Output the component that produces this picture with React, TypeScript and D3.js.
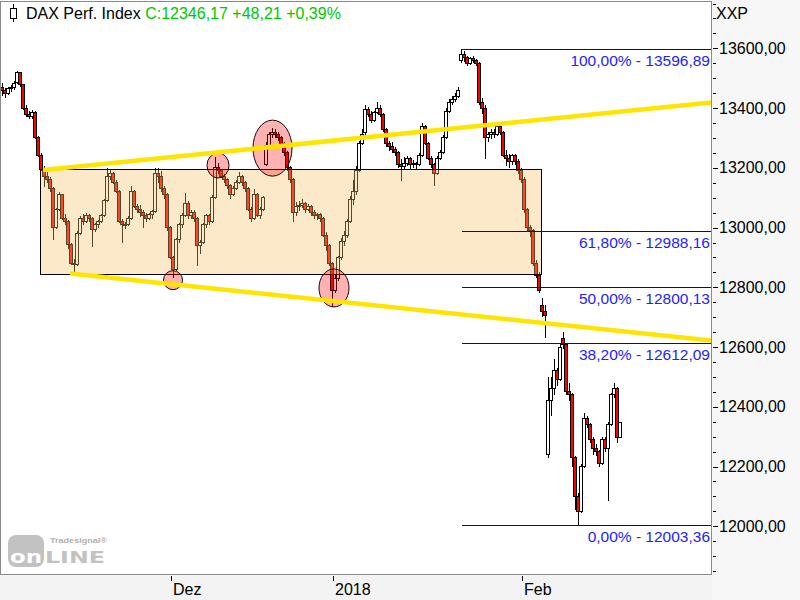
import React from "react";
import * as d3 from "d3";

// ---- header texts ----
const instrument = "DAX Perf. Index";
const lastClose = "C:12346,17";
const lastChange = "+48,21";
const lastChangePct = "+0,39%";
const currencyCode = "XXP";

// ---- price bars [open, high, low, close] ----
type Bar = [number, number, number, number];

const novBars: Bar[] = [
  [13470, 13485, 13440, 13460], [13460, 13468, 13435, 13450], [13450, 13472, 13445, 13465], [13465, 13478, 13455, 13470],
  [13470, 13490, 13462, 13482], [13485, 13525, 13480, 13518], [13518, 13522, 13470, 13478], [13478, 13482, 13395, 13400],
  [13400, 13410, 13370, 13380], [13380, 13392, 13362, 13372], [13372, 13395, 13365, 13385], [13385, 13390, 13295, 13300],
  [13300, 13305, 13235, 13240], [13240, 13250, 13190, 13195], [13195, 13205, 13135, 13170], [13170, 13185, 13150, 13162],
  [13162, 13168, 13120, 13130], [13130, 13135, 12960, 13000], [13000, 13065, 12995, 13060], [13060, 13120, 13055, 13110],
  [13110, 13112, 13025, 13030], [13030, 13045, 13010, 13020], [13020, 13025, 12930, 12945], [12945, 12950, 12875, 12880],
  [12880, 12895, 12850, 12875], [12875, 12990, 12870, 12980], [12980, 13040, 12975, 13030], [13030, 13045, 13010, 13020],
  [13020, 13048, 13015, 13040], [13040, 13045, 13020, 13030], [13030, 13035, 12935, 12995], [12995, 13015, 12985, 13010],
  [13010, 13025, 13000, 13020], [13020, 13045, 13015, 13040], [13040, 13095, 13035, 13090], [13090, 13200, 13085, 13170],
  [13170, 13195, 13160, 13180], [13180, 13185, 13145, 13150], [13150, 13160, 13115, 13120], [13120, 13125, 13015, 13020],
  [13020, 13030, 12950, 13010], [13010, 13020, 12995, 13012], [13012, 13040, 13005, 13030], [13030, 13140, 13025, 13120],
  [13120, 13125, 13065, 13070], [13070, 13080, 13050, 13060], [13060, 13075, 13035, 13050], [13050, 13060, 13000, 13040],
  [13040, 13050, 13020, 13030], [13030, 13050, 13025, 13045], [13045, 13060, 13030, 13055], [13055, 13200, 13050, 13180],
  [13180, 13200, 13150, 13170], [13170, 13190, 13120, 13130], [13130, 13140, 13095, 13110], [13110, 13115, 12990, 13000],
];

const decBars: Bar[] = [
  [13000, 13005, 12895, 12900], [12900, 12905, 12830, 12860], [12860, 12965, 12855, 12960], [12960, 13015, 12950, 13010],
  [13010, 13050, 13000, 13040], [13040, 13115, 13035, 13080], [13080, 13090, 13030, 13040], [13040, 13060, 13030, 13050],
  [13050, 13060, 13020, 13030], [13030, 13035, 12870, 12940], [12940, 12960, 12910, 12950], [12950, 13015, 12945, 13010],
  [13010, 13045, 13000, 13040], [13040, 13045, 13010, 13020], [13020, 13110, 13015, 13100], [13100, 13235, 13095, 13200],
  [13200, 13215, 13180, 13190], [13190, 13195, 13165, 13170], [13170, 13180, 13150, 13160], [13160, 13165, 13130, 13140],
  [13140, 13145, 13095, 13110], [13110, 13140, 13105, 13130], [13130, 13160, 13125, 13150], [13150, 13185, 13145, 13170],
  [13170, 13175, 13140, 13150], [13150, 13155, 13120, 13130], [13130, 13135, 13055, 13060], [13060, 13070, 13020, 13030],
  [13030, 13130, 13025, 13110], [13110, 13115, 13035, 13040], [13040, 13070, 13030, 13060], [13060, 13105, 13055, 13100],
  [13210, 13285, 13205, 13275], [13275, 13320, 13270, 13310], [13310, 13335, 13300, 13320], [13320, 13330, 13300, 13310],
  [13310, 13320, 13290, 13300], [13300, 13305, 13270, 13280], [13280, 13285, 13240, 13250], [13250, 13255, 13190, 13200],
  [13200, 13205, 13150, 13160], [13160, 13165, 13020, 13050], [13050, 13085, 13040, 13070], [13070, 13090, 13055, 13075],
  [13075, 13095, 13065, 13080], [13080, 13085, 13050, 13060], [13060, 13080, 13055, 13070], [13070, 13075, 13040, 13050],
  [13050, 13060, 13030, 13040], [13040, 13050, 13025, 13045], [13045, 13050, 13020, 13030], [13030, 13035, 12970, 12975],
  [12975, 12985, 12920, 12940], [12940, 12945, 12870, 12880],
];

const janBars: Bar[] = [
  [12880, 12885, 12735, 12790], [12790, 12840, 12780, 12830], [12830, 12905, 12820, 12900], [12900, 12965, 12890, 12955],
  [12955, 12990, 12940, 12975], [12975, 13030, 12965, 13020], [13020, 13105, 13015, 13095], [13095, 13160, 13075, 13120],
  [13120, 13205, 13110, 13190], [13190, 13290, 13185, 13280], [13280, 13330, 13275, 13310], [13320, 13410, 13310, 13395],
  [13395, 13405, 13370, 13380], [13380, 13390, 13350, 13360], [13360, 13390, 13355, 13385], [13385, 13420, 13380, 13400],
  [13400, 13410, 13370, 13380], [13380, 13385, 13320, 13330], [13330, 13335, 13270, 13280], [13280, 13290, 13255, 13270],
  [13270, 13285, 13250, 13260], [13260, 13270, 13240, 13250], [13250, 13255, 13200, 13210], [13210, 13230, 13155, 13205],
  [13205, 13235, 13195, 13215], [13215, 13240, 13205, 13230], [13230, 13235, 13195, 13210], [13210, 13225, 13200, 13215],
  [13215, 13220, 13195, 13210], [13210, 13250, 13205, 13240], [13240, 13350, 13235, 13340], [13340, 13345, 13275, 13280],
  [13280, 13285, 13225, 13230], [13230, 13240, 13200, 13210], [13210, 13215, 13140, 13180], [13180, 13240, 13175, 13230],
  [13230, 13260, 13225, 13250], [13250, 13310, 13245, 13300], [13300, 13400, 13295, 13390], [13390, 13430, 13385, 13420],
  [13420, 13440, 13410, 13430], [13430, 13450, 13420, 13440], [13440, 13470, 13435, 13460], [13560, 13597, 13550, 13580],
  [13580, 13590, 13555, 13570], [13570, 13575, 13540, 13550], [13550, 13570, 13545, 13565], [13565, 13575, 13550, 13560],
  [13560, 13565, 13540, 13550], [13550, 13555, 13410, 13420], [13420, 13435, 13380, 13400], [13400, 13410, 13230, 13300],
  [13300, 13320, 13285, 13310], [13310, 13330, 13295, 13320], [13320, 13330, 13300, 13310], [13310, 13345, 13305, 13340],
  [13340, 13345, 13310, 13320], [13320, 13325, 13235, 13240], [13240, 13260, 13205, 13230], [13230, 13245, 13200, 13220],
  [13220, 13245, 13210, 13240], [13240, 13245, 13210, 13220], [13220, 13230, 13180, 13190],
];

const febBars: Bar[] = [
  [13190, 13200, 13150, 13160], [13160, 13170, 13050, 13060], [13060, 13065, 12985, 13000], [13000, 13010, 12970, 12990],
  [12990, 12995, 12870, 12880], [12880, 12890, 12830, 12840], [12840, 12850, 12780, 12790], [12740, 12765, 12700, 12720],
  [12720, 12740, 12630, 12705], [12240, 12500, 12230, 12420], [12420, 12500, 12370, 12460], [12460, 12560, 12440, 12520],
  [12520, 12530, 12470, 12490], [12490, 12610, 12485, 12600], [12630, 12650, 12595, 12610], [12610, 12615, 12440, 12450],
  [12450, 12480, 12420, 12440], [12440, 12445, 12200, 12230], [12230, 12235, 12055, 12100], [12100, 12110, 12003, 12050],
  [12050, 12210, 12045, 12200], [12200, 12380, 12195, 12360], [12360, 12370, 12330, 12340], [12340, 12345, 12280, 12290],
  [12290, 12300, 12240, 12260], [12260, 12275, 12235, 12250], [12250, 12255, 12200, 12210], [12210, 12300, 12205, 12290],
  [12290, 12300, 12250, 12260], [12260, 12350, 12085, 12340], [12340, 12445, 12335, 12440], [12440, 12480, 12430, 12460],
  [12460, 12465, 12280, 12298], [12298, 12350, 12295, 12346.17],
];

const monthLabels = ["Dez", "2018", "Feb"];

// ---- y axis ticks ----
const majorTicks = [12000, 12200, 12400, 12600, 12800, 13000, 13200, 13400, 13600];
const minorStep = 50;

// ---- Fibonacci retracement ----
const fibPercents = [100, 61.8, 50, 38.2, 0];
const fibLevels = [13596.89, 12988.16, 12800.13, 12612.09, 12003.36];
const fibStartBar = 153.33;

// ---- drawings (bar index, price) ----
const boxBarRange = [12.67, 179.67];
const boxPriceRange = [13195, 12844];
const upperTrend = [[13.67, 13193], [236.33, 13419]];
const lowerTrend = [[22.67, 12846], [236.33, 12622]];
const circleBars = [57, 72, 90.17, 110.67];
const circlePrices = [12824, 13208, 13266, 12798];
const circleRx = [9.5, 11, 19.5, 15];
const circleRy = [9.5, 12.5, 28, 19];

const FONT = "'Liberation Sans', Arial, sans-serif";

export default function App() {
  const bars: Bar[] = [...novBars, ...decBars, ...janBars, ...febBars];
  const monthStarts = [
    novBars.length,
    novBars.length + decBars.length,
    novBars.length + decBars.length + janBars.length,
  ];
  const plotL = 0.5, plotT = 1.5, plotR = 711.5, plotB = 574.5;

  const x = d3.scaleLinear().domain([0, bars.length - 1]).range([2, 620]);
  const y = d3.scaleLinear().domain([12000, 13600]).range([526.3, 48.37]);

  const loc = d3.formatLocale({ decimal: ",", thousands: ".", grouping: [3], currency: ["", ""] });
  const f2 = loc.format(".2f");

  const yTop = y.invert(plotT);
  const yBot = y.invert(plotB);
  const minorTicks = d3.range(Math.ceil(yBot / minorStep) * minorStep, yTop, minorStep);

  const line = d3.line<number[]>().x((d) => x(d[0])).y((d) => y(d[1]));

  return (
    <svg
      width={800}
      height={600}
      style={{ position: "absolute", left: 0, top: 0 }}
      fontFamily={FONT}
    >
      <defs>
        <clipPath id="plotclip">
          <rect x={1} y={2} width={710} height={572} />
        </clipPath>
      </defs>
      <rect x={0} y={0} width={800} height={600} fill="#ffffff" />
      <rect x={712} y={0} width={88} height={600} fill="#f7f7f7" />
      <rect x={0} y={575} width={712} height={25} fill="#f3f3f3" />

      {/* watermark */}
      <g>
        <rect x={8} y={535} width={36} height={32} rx={8} fill="#c2c2c2" />
        <text x={10} y={563} fontSize={18} fontWeight="bold" fill="#ffffff" fontFamily="'DejaVu Sans', sans-serif" textLength={32} lengthAdjust="spacingAndGlyphs">on</text>
        <text x={45} y={563} fontSize={16} fontWeight="bold" fill="#c2c2c2" fontFamily="'DejaVu Sans', sans-serif" textLength={60} lengthAdjust="spacingAndGlyphs">LINE</text>
        <text x={50} y={543} fontSize={7} fontWeight="bold" fill="#b0b0b0" textLength={57} lengthAdjust="spacingAndGlyphs">Tradesignal®</text>
      </g>

      <g clipPath="url(#plotclip)">
        {/* candles */}
        <g shapeRendering="crispEdges">
          {bars.map((b, i) => {
            const [o, h, l, c] = b;
            const cx = Math.round(x(i));
            const top = y(Math.max(o, c));
            const bot = y(Math.min(o, c));
            const up = c >= o;
            return (
              <g key={i}>
                <line x1={cx} x2={cx} y1={y(h)} y2={y(l)} stroke="#000" strokeWidth={1} />
                <rect
                  x={cx - 1.5}
                  y={top}
                  width={3}
                  height={Math.max(1, bot - top)}
                  fill={up ? "#ffffff" : "#ff0000"}
                  stroke="#000"
                  strokeWidth={1}
                />
              </g>
            );
          })}
        </g>

        {/* range box */}
        <rect
          x={x(boxBarRange[0]) + 0.5}
          y={y(boxPriceRange[0])}
          width={x(boxBarRange[1]) - x(boxBarRange[0])}
          height={y(boxPriceRange[1]) - y(boxPriceRange[0])}
          fill="#f6c26b"
          fillOpacity={0.36}
          stroke="#000"
          strokeWidth={1}
          shapeRendering="crispEdges"
        />

        {/* circles */}
        {circleBars.map((b, i) => (
          <ellipse
            key={i}
            cx={x(b)}
            cy={y(circlePrices[i])}
            rx={circleRx[i]}
            ry={circleRy[i]}
            fill="#ff0000"
            fillOpacity={0.3}
            stroke="#200000"
            strokeWidth={1}
          />
        ))}

        {/* trend lines */}
        <path d={line(upperTrend) || ""} stroke="#ffe400" strokeWidth={4.5} fill="none" />
        <path d={line(lowerTrend) || ""} stroke="#ffe400" strokeWidth={4.5} fill="none" />

        {/* fibonacci */}
        {fibLevels.map((v, i) => (
          <g key={i}>
            <line
              x1={x(fibStartBar)}
              x2={plotR}
              y1={Math.round(y(v)) + 0.5}
              y2={Math.round(y(v)) + 0.5}
              stroke="#0000cc"
              strokeWidth={1}
              shapeRendering="crispEdges"
            />
            <text
              x={710}
              y={y(v) + 16.5}
              textAnchor="end"
              fontSize={15.5}
              fill="#2222ff"
            >
              {`${f2(fibPercents[i])}% - ${f2(v)}`}
            </text>
          </g>
        ))}
      </g>

      {/* frame */}
      <rect
        x={plotL}
        y={plotT}
        width={plotR - plotL}
        height={plotB - plotT}
        fill="none"
        stroke="#8a8a8a"
        strokeWidth={1}
        shapeRendering="crispEdges"
      />

      {/* title */}
      <g>
        <line x1={13.5} x2={13.5} y1={4} y2={22} stroke="#000" strokeWidth={1} shapeRendering="crispEdges" />
        <rect x={10.5} y={8.5} width={6} height={10} fill="#fff" stroke="#000" strokeWidth={1} shapeRendering="crispEdges" />
        <text x={26} y={18.5} fontSize={16} fill="#000">
          {instrument + " "}
          <tspan fill="#00c800">{`${lastClose} ${lastChange} ${lastChangePct}`}</tspan>
        </text>
      </g>

      {/* y axis */}
      <text x={716} y={19} fontSize={16} fill="#000">{currencyCode}</text>
      <g shapeRendering="crispEdges">
        {minorTicks.map((v) => (
          <line key={"m" + v} x1={713} x2={716} y1={Math.round(y(v)) + 0.5} y2={Math.round(y(v)) + 0.5} stroke="#000" />
        ))}
        {majorTicks.map((v) => (
          <line key={"M" + v} x1={713} x2={718} y1={Math.round(y(v)) + 0.5} y2={Math.round(y(v)) + 0.5} stroke="#000" />
        ))}
      </g>
      {majorTicks.map((v) => (
        <text key={"t" + v} x={719} y={y(v) + 5.5} fontSize={16} fill="#000">
          {f2(v)}
        </text>
      ))}

      {/* x axis */}
      {monthStarts.map((s, i) => {
        const tx = Math.round(x(s)) + 1;
        return (
          <g key={i}>
            <line x1={tx + 0.5} x2={tx + 0.5} y1={576} y2={581} stroke="#000" shapeRendering="crispEdges" />
            <text x={tx + 2} y={595} fontSize={16} fill="#000">
              {monthLabels[i]}
            </text>
          </g>
        );
      })}
    </svg>
  );
}
